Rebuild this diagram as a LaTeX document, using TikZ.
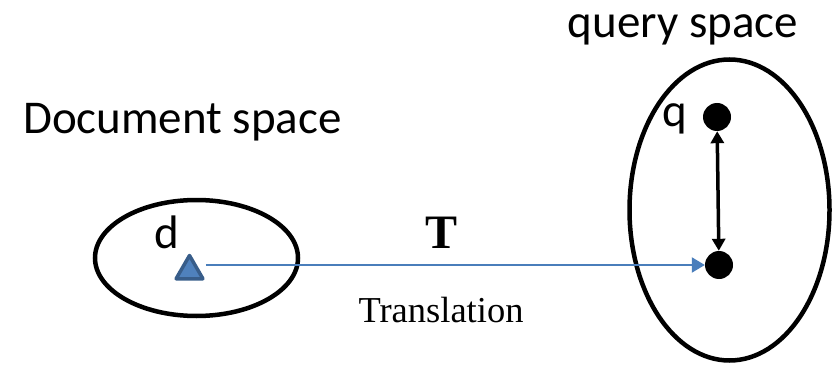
\documentclass[tikz,border=0pt]{standalone}
\usepackage{fontspec}
\setmainfont{Liberation Serif}
\newfontfamily\labelfont{Carlito}
\usetikzlibrary{arrows.meta,positioning,shapes.geometric}
\definecolor{tri}{HTML}{4F81BD}
\definecolor{triedge}{HTML}{385D8A}
\definecolor{link}{HTML}{4A7EBB}

\begin{document}
\begin{tikzpicture}[x=1pt,y=-1pt,
 space/.style={draw=black,line width=4.5pt,ellipse,inner sep=0pt},
 point/.style={circle,fill=black,minimum size=28pt,inner sep=0pt},
 lbl/.style={font=\labelfont\fontsize{47}{52}\selectfont,inner sep=0pt,anchor=base},
 map/.style={-{Triangle[length=13pt,width=15pt]},line width=2pt,draw=link},
 near/.style={{Triangle[length=12pt,width=13pt]}-{Triangle[length=12pt,width=13pt]},line width=3.5pt}]
\useasboundingbox (0,0) rectangle (837,366);
% the two spaces
\node[space,minimum width=203pt,minimum height=116pt] (docs) at (196.5,258) {};
\node[space,minimum width=200pt,minimum height=301pt] (qrys) at (729.5,210) {};
\node[lbl] (doclabel) at (182.5,134) {Document space};
\node[lbl] (qrylabel) at (683,38) {query space};
% document and queries
\node[regular polygon,regular polygon sides=3,fill=tri,draw=triedge,line width=3.5pt,
      line join=round,minimum size=31pt,inner sep=0pt] (d) at (189.5,271) {};
\node[lbl] (dlabel) at (167,248) {d};
\node[point] (q) at (717,117) {};
\node[lbl] (qlabel) at (675,127) {q};
\node[point] (td) at (719,265) {};
% translation
\draw[map] (d.corner 3 |- td) -- (td);
\node[font=\bfseries\fontsize{48}{52}\selectfont,inner sep=0pt,anchor=base] (T) at (442,248) {T};
\node[font=\fontsize{36.5}{40}\selectfont,inner sep=0pt,anchor=base] (tr) at (441,322) {Translation};
\draw[near] (q) -- (td);
\end{tikzpicture}
\end{document}
